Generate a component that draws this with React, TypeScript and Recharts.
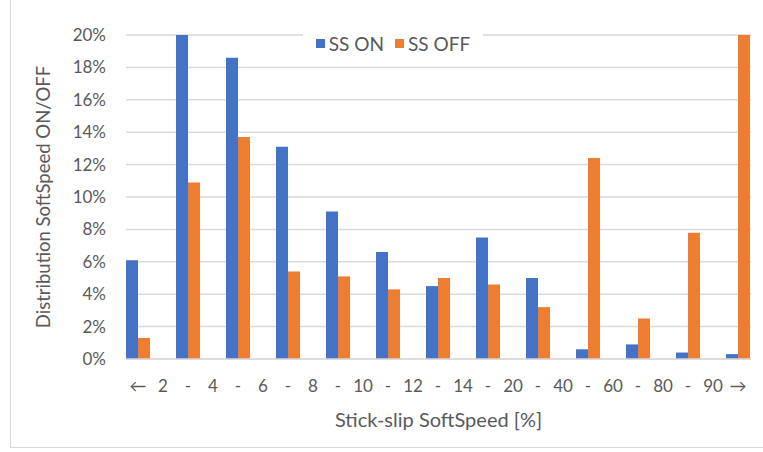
import { Bar, BarChart, CartesianGrid, Label, XAxis, YAxis } from "recharts";

const positions = [0, 1, 2, 3, 4, 5, 6, 7, 8, 9, 10, 11, 12];
const ssOn = [6.1, 20.0, 18.6, 13.1, 9.1, 6.6, 4.5, 7.5, 5.0, 0.6, 0.9, 0.4, 0.3];
const ssOff = [1.3, 10.9, 13.7, 5.4, 5.1, 4.3, 5.0, 4.6, 3.2, 12.4, 2.5, 7.8, 20.0];
const centerLabels = ["←", "-", "-", "-", "-", "-", "-", "-", "-", "-", "-", "-", "→"];
const boundaryLabels = ["2", "4", "6", "8", "10", "12", "14", "20", "40", "60", "80", "90"];
const yTicks = [0, 2, 4, 6, 8, 10, 12, 14, 16, 18, 20];
const seriesNames = ["SS ON", "SS OFF"];

const BLUE = "#4472C4";
const ORANGE = "#ED7D31";
const GRID = "#D9D9D9";
const TEXT = "#595959";
const FONT = "Lato, 'Noto Sans', sans-serif";

const data = positions.map((p, i) => ({ idx: p, on: ssOn[i], off: ssOff[i] }));
const xTicks = positions.flatMap((p, i) => (i < boundaryLabels.length ? [p, p + 0.5] : [p]));

const formatX = (v: number) => {
  if (Number.isInteger(v)) return centerLabels[v];
  return boundaryLabels[Math.floor(v)];
};

// legend drawn as an overlay so it does not push the plot down
const LegendBox = () => (
  <div
    style={{
      position: "absolute",
      left: 303,
      top: 31,
      width: 180,
      height: 24,
      background: "#fff",
      display: "flex",
      justifyContent: "center",
      alignItems: "center",
      gap: 11,
      fontFamily: FONT,
      fontSize: 19,
      color: TEXT,
    }}
  >
    {[BLUE, ORANGE].map((c, i) => (
      <span key={c} style={{ display: "flex", alignItems: "center" }}>
        <span style={{ width: 9, height: 9, background: c, marginRight: 4 }} />
        {seriesNames[i]}
      </span>
    ))}
  </div>
);

export default function App() {
  return (
    <div
      style={{
        position: "absolute",
        left: 0,
        top: 0,
        width: 763,
        height: 452,
        background: "#fff",
        overflow: "hidden",
      }}
    >
      <div
        style={{
          position: "absolute",
          left: 10,
          top: -2,
          width: 800,
          height: 448,
          border: `1px solid ${GRID}`,
        }}
      />
      <BarChart
        width={763}
        height={452}
        data={data}
        barGap={0}
        margin={{ top: 35, right: 12, left: 20, bottom: 33 }}
        style={{ fontFamily: FONT }}
      >
        <CartesianGrid vertical={false} stroke={GRID} strokeWidth={1.5} />
        <XAxis
          type="number"
          dataKey="idx"
          domain={[-0.24, 12.26]}
          ticks={xTicks}
          interval={0}
          tickFormatter={formatX}
          tick={{ fill: TEXT, fontSize: 17 }}
          axisLine={{ stroke: GRID, strokeWidth: 1.5 }}
          tickLine={false}
          tickSize={0}
          tickMargin={21}
          height={60}
        >
          <Label
            content={({ viewBox }: any) => (
              <text
                x={viewBox.x + viewBox.width / 2}
                y={427}
                textAnchor="middle"
                fill={TEXT}
                fontSize={20}
                fontFamily={FONT}
              >
                Stick-slip SoftSpeed [%]
              </text>
            )}
          />
        </XAxis>
        <YAxis
          domain={[0, 20]}
          ticks={yTicks}
          allowDataOverflow
          tickFormatter={(v: number) => `${v}%`}
          tick={{ fill: TEXT, fontSize: 17 }}
          axisLine={false}
          tickLine={false}
          tickSize={0}
          tickMargin={20}
          width={106}
        >
          <Label
            content={({ viewBox }: any) => {
              const cy = viewBox.y + viewBox.height / 2;
              return (
                <text
                  x={50}
                  y={cy}
                  transform={`rotate(-90 50 ${cy})`}
                  textAnchor="middle"
                  fill={TEXT}
                  fontSize={18.5}
                  fontFamily={FONT}
                >
                  Distribution SoftSpeed ON/OFF
                </text>
              );
            }}
          />
        </YAxis>
        <Bar dataKey="on" name="SS ON" fill={BLUE} barSize={12} isAnimationActive={false} />
        <Bar dataKey="off" name="SS OFF" fill={ORANGE} barSize={12} isAnimationActive={false} />
      </BarChart>
      <LegendBox />
    </div>
  );
}
